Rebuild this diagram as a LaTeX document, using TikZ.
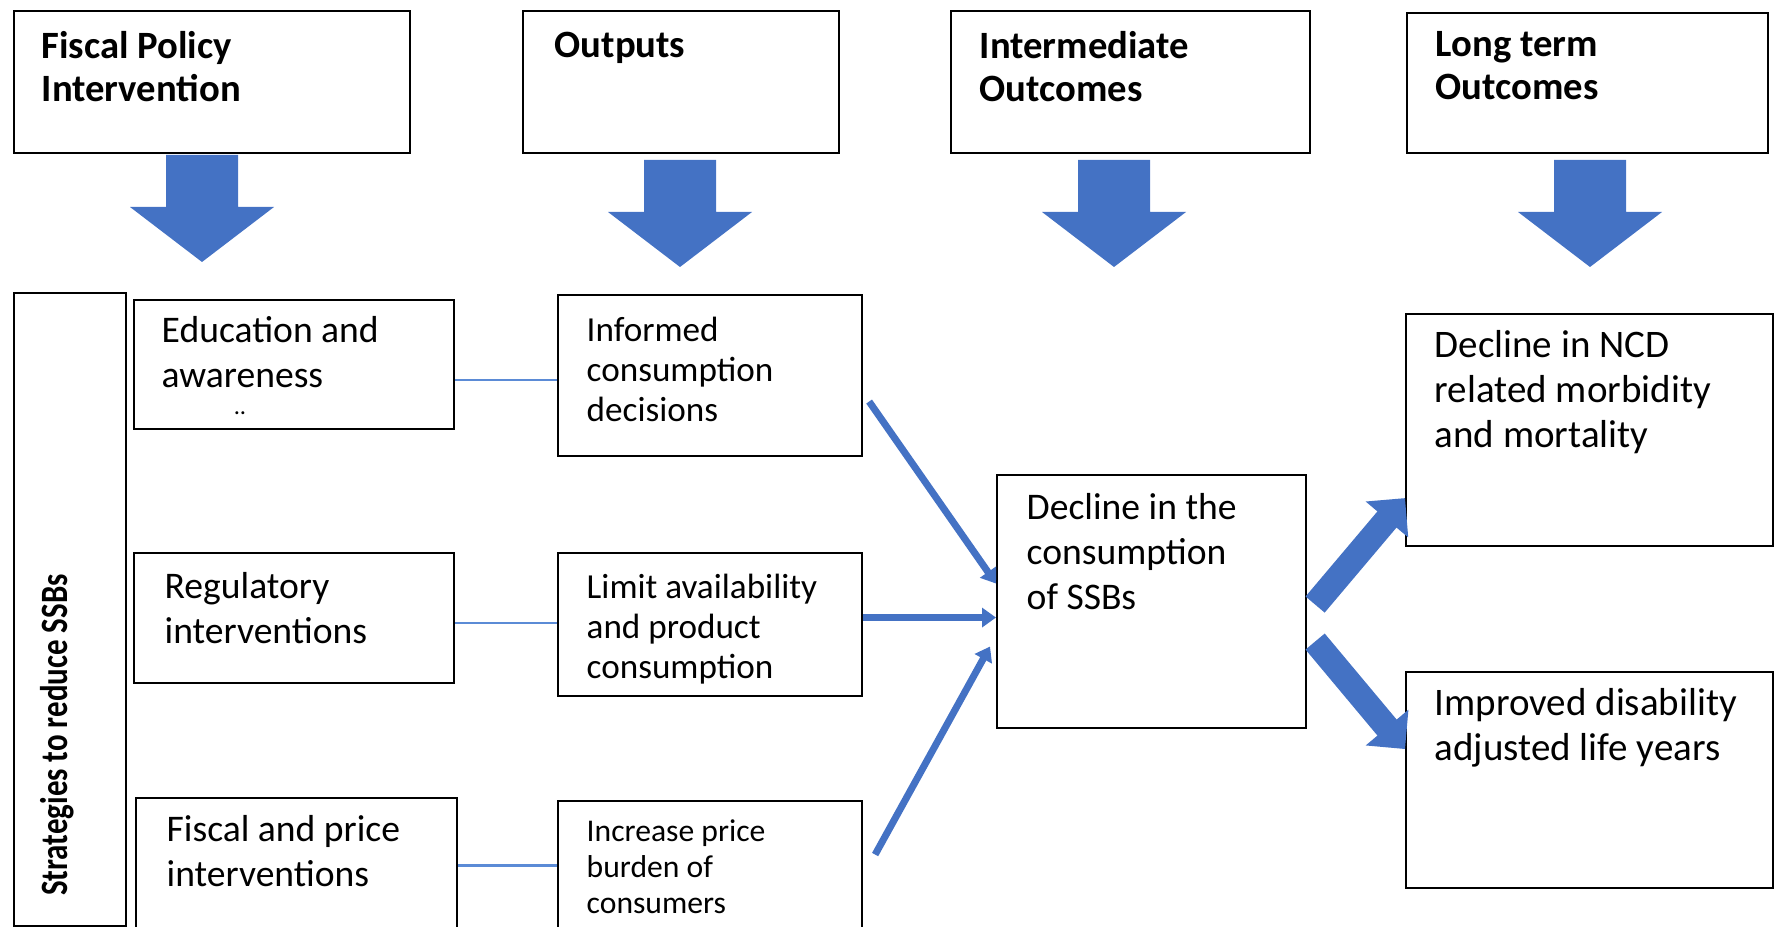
\documentclass[tikz,border=0pt]{standalone}
\usepackage{fontspec}
\setmainfont{Carlito}
\usepackage{xcolor}
\usetikzlibrary{arrows.meta}
\definecolor{arrblue}{HTML}{4472C4}
\definecolor{linkblue}{HTML}{5B8BD6}

\begin{document}
\begin{tikzpicture}[x=0.1mm,y=-0.1mm,
  box/.style={draw, line width=0.6pt, anchor=north west, inner sep=0pt},
  head/.style={anchor=north west, align=left, inner sep=0pt, font=\bfseries\fontsize{11}{12.2}\selectfont},
  body/.style={anchor=north west, align=left, inner sep=0pt, font=\fontsize{10.7}{12.8}\selectfont},
  bigbody/.style={body, font=\fontsize{11.1}{12.8}\selectfont},
  smallbody/.style={body, font=\fontsize{10}{11.4}\selectfont},
  tinybody/.style={body, font=\fontsize{9}{10.2}\selectfont},
  link/.style={draw=linkblue, line width=0.25mm},
  thinarr/.style={draw=arrblue, line width=0.7mm, -{Triangle[length=1.4mm,width=1.9mm]}},
  fatarr/.style={draw=arrblue, line width=2.5mm, -{Triangle[length=2.8mm,width=5.4mm]}}]

\useasboundingbox (0,0) rectangle (1783,927);

% header row
\node[box, minimum width=39.6mm, minimum height=14.2mm] (hfis) at (13,10) {};
\node[head] (hfistxt) at (41,31) {Fiscal Policy\\Intervention};
\node[box, minimum width=31.6mm, minimum height=14.2mm] (hout) at (522,10) {};
\node[head] (houttxt) at (554,31) {Outputs};
\node[box, minimum width=35.9mm, minimum height=14.2mm] (hint) at (950,10) {};
\node[head] (hinttxt) at (979,31) {Intermediate\\Outcomes};
\node[box, minimum width=36.1mm, minimum height=14mm] (hlong) at (1406,12) {};
\node[head] (hlongtxt) at (1435,31) {Long term\\Outcomes};

\foreach \cx/\ty in {202/155, 680/160, 1114/160, 1590/160}
  \fill[arrblue] (\cx-36,\ty) -- (\cx+36,\ty) -- (\cx+36,\ty+52) -- (\cx+72,\ty+52)
    -- (\cx,\ty+107) -- (\cx-72,\ty+52) -- (\cx-36,\ty+52) -- cycle;

% strategies
\node[box, minimum width=11.2mm, minimum height=63.3mm] (strat) at (13,292) {};
\node[rotate=90, inner sep=0pt, font=\bfseries\fontsize{11}{12}\selectfont] (strattxt) at (57,735)
  {\scalebox{0.8}[1]{Strategies to reduce SSBs}};

\node[box, minimum width=32mm, minimum height=12.9mm] (edu) at (133,299) {};
\node[body] (edutxt) at (161,316) {Education and\\awareness};
\node[inner sep=0pt, font=\scriptsize] (edudots) at (240,413) {..};
\node[box, minimum width=32mm, minimum height=13mm] (reg) at (133,552) {};
\node[body] (regtxt) at (164,572) {Regulatory\\interventions};
\node[box, minimum width=32.1mm, minimum height=13.5mm] (fisc) at (135,797) {};
\node[body] (fisctxt) at (166,815) {Fiscal and price\\interventions};

% outputs
\node[box, minimum width=30.4mm, minimum height=16.1mm] (inf) at (557,294) {};
\node[smallbody] (inftxt) at (586,316) {Informed\\consumption\\decisions};
\node[box, minimum width=30.4mm, minimum height=14.3mm] (lim) at (557,552) {};
\node[smallbody] (limtxt) at (586,573) {Limit availability\\and product\\consumption};
\node[box, minimum width=30.4mm, minimum height=13.5mm] (inc) at (557,800) {};
\node[tinybody] (inctxt) at (586,819) {Increase price\\burden of\\consumers};

\draw[link] ([yshift=-1.55mm]edu.east) -- ([yshift=-1.55mm]edu.east -| inf.west);
\draw[link] ([yshift=-0.5mm]reg.east) -- ([yshift=-0.5mm]reg.east -| lim.west);
\draw[link] (fisc.east) -- (fisc.east -| inc.west);

% outcomes
\node[box, minimum width=30.9mm, minimum height=25.3mm] (dec) at (996,474) {};
\node[body] (dectxt) at (1026,493) {Decline in the\\consumption\\of SSBs};
\node[box, minimum width=36.7mm, minimum height=23.2mm] (ncd) at (1405,313) {};
\node[bigbody] (ncdtxt) at (1434,330) {Decline in NCD\\related morbidity\\and mortality};
\node[box, minimum width=36.7mm, minimum height=21.6mm] (daly) at (1405,671) {};
\node[bigbody] (dalytxt) at (1434,688) {Improved disability\\adjusted life years};

\draw[thinarr] ([xshift=0.6mm,yshift=-2.6mm]inf.east) -- ([yshift=1.8mm]dec.west);
\draw[thinarr] ([yshift=0.7mm]lim.east) -- ([yshift=0.7mm]lim.east -| dec.west);
\draw[thinarr] ([xshift=1.2mm,yshift=1.4mm]inc.east) -- ([xshift=-0.6mm,yshift=-4.5mm]dec.west);

\draw[fatarr] ([xshift=0.8mm,yshift=-0.3mm]dec.east) -- ([yshift=4.9mm]ncd.south west);
\draw[fatarr] ([xshift=0.8mm,yshift=-4mm]dec.east) -- ([yshift=3.1mm]daly.west);
\end{tikzpicture}
\end{document}
